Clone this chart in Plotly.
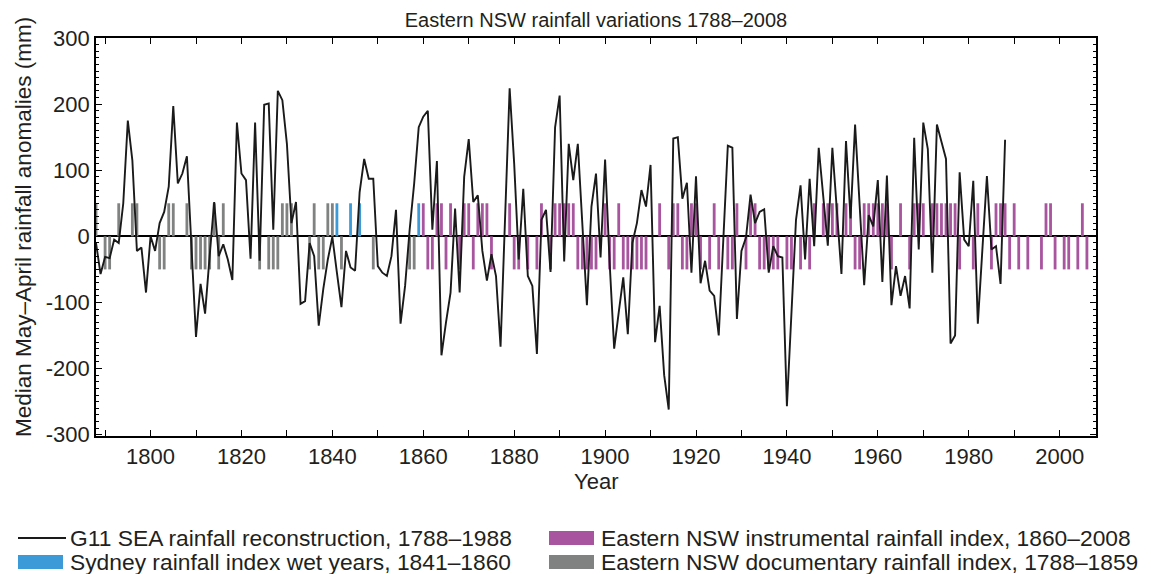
import plotly.graph_objects as go

# G11 SEA reconstruction, one value per year 1788-1988 (mm)
recon_years = list(range(1788, 1989))
recon_vals = [-10, -57,
    -31, -33, -5, -10, 50, 175, 115, -22, -17, -85,
    0, -22, 20, 37, 75, 197, 80, 95, 121, -15,
    -152, -72, -117, -30, 52, -30, -12, -35, -66, 172,
    95, 85, -34, 172, -37, 199, 201, 10, 220, 206,
    140, 20, 52, -102, -98, -10, -30, -135, -80, -35,
    -1, -55, -107, -22, -47, -52, 67, 117, 87, 87,
    -45, -55, -60, -30, 40, -132, -75, 10, 80, 165,
    181, 190, 10, 114, -180, -130, -85, 42, -85, 90,
    147, 52, 62, -22, -67, -27, -60, -167, 28, 224,
    110, -35, 72, -60, -75, -178, 25, 40, -54, 165,
    213, -38, 140, 85, 140, 15, -104, 45, 95, -32,
    116, -40, -170, -115, -62, -148, -10, 20, 70, 45,
    108, -160, -105, -210, -262, 148, 150, 57, 81, -55,
    91, -71, -37, -82, -90, -150, -5, 137, 134, -125,
    -22, -2, 63, 20, 37, 41, -55, -15, -30, -32,
    -257, -110, 25, 77, -35, 87, -15, 134, 55, -14,
    134, 30, -57, 144, 27, 169, 50, -74, 32, 15,
    85, -69, 92, -104, -45, -90, -60, -109, 149, -20,
    172, 132, -55, 169, 143, 117, -162, -150, 97, -5,
    -15, 84, -132, -20, 91, -20, -15, -72, 146]

# index bars: wet years plotted at +50, dry years at -50
bar_height = 50
doc_wet = [1788, 1793, 1796, 1797, 1804, 1805, 1808, 1814, 1816, 1829, 1830,
           1831, 1836, 1839, 1840]
doc_dry = [1790, 1791, 1802, 1803, 1809, 1810, 1811, 1812, 1813, 1815, 1824,
           1826, 1827, 1828, 1835, 1837, 1838, 1842, 1849, 1857, 1858]
syd_wet = [1841, 1844, 1846, 1859]
inst_wet = [1860, 1863, 1864, 1866, 1869, 1870, 1872, 1873, 1874, 1879, 1886,
            1889, 1890, 1891, 1892, 1893, 1900, 1903, 1912, 1915, 1916, 1919,
            1920, 1924, 1929, 1932, 1933, 1946, 1948, 1949, 1950, 1951, 1953,
            1954, 1957, 1958, 1959, 1960, 1961, 1962, 1965, 1968, 1969, 1970,
            1972, 1973, 1974, 1975, 1976, 1977, 1982, 1986, 1987, 1988, 1990,
            1997, 1998, 2005]
inst_dry = [1861, 1862, 1865, 1868, 1871, 1875, 1880, 1881, 1883, 1885, 1888,
            1894, 1895, 1896, 1897, 1898, 1901, 1902, 1904, 1905, 1906, 1907,
            1908, 1909, 1914, 1917, 1918, 1921, 1923, 1925, 1927, 1928, 1931,
            1934, 1935, 1936, 1937, 1938, 1940, 1941, 1943, 1945, 1955, 1956,
            1963, 1967, 1978, 1981, 1985, 1989, 1991, 1993, 1996, 1999, 2001,
            2002, 2004, 2006]

y_ticks = [-300, -200, -100, 0, 100, 200, 300]
y_ticktext = ['-300', '-200', '-100', '0', '100', '200', '300']

legend_labels = ['G11 SEA rainfall reconstruction, 1788–1988',
                 'Eastern NSW instrumental rainfall index, 1860–2008',
                 'Sydney rainfall index wet years, 1841–1860',
                 'Eastern NSW documentary rainfall index, 1788–1859']

purple = '#a8549f'
blue = '#3d9ad8'
grey = '#808181'
txt = '#231f20'
fnt = 'Liberation Sans, Arial, sans-serif'

fig = go.Figure()

fig.add_trace(go.Bar(x=doc_wet + doc_dry,
                     y=[bar_height] * len(doc_wet) + [-bar_height] * len(doc_dry),
                     width=0.62, marker_color=grey, marker_line_width=0,
                     showlegend=False))
fig.add_trace(go.Bar(x=syd_wet, y=[bar_height] * len(syd_wet),
                     width=0.62, marker_color=blue, marker_line_width=0,
                     showlegend=False))
fig.add_trace(go.Bar(x=inst_wet + inst_dry,
                     y=[bar_height] * len(inst_wet) + [-bar_height] * len(inst_dry),
                     width=0.62, marker_color=purple, marker_line_width=0,
                     showlegend=False))
fig.add_trace(go.Scatter(x=recon_years, y=recon_vals, mode='lines',
                         line=dict(color='#1a1a1a', width=1.9),
                         showlegend=False))

# the page body adds 8px on the left and top, so margins are 8px smaller
fig.update_layout(
    width=1151, height=574,
    margin=dict(l=88, r=63, t=30, b=146),
    barmode='overlay',
    plot_bgcolor='white', paper_bgcolor='white',
    font=dict(family=fnt, size=22, color=txt),
    title=dict(text='Eastern NSW rainfall variations 1788–2008',
               x=0.5, xref='paper', xanchor='center',
               y=1 - 12 / 574, yanchor='middle',
               font=dict(size=20, color=txt)),
)

fig.update_xaxes(
    range=[1788, 2008], tick0=1800, dtick=20,
    ticks='inside', ticklen=6, tickwidth=1.3, tickcolor='black',
    minor=dict(dtick=10, tick0=1800, ticks='inside', ticklen=6,
               tickwidth=1.3, tickcolor='black'),
    showline=True, linecolor='black', linewidth=1.6, mirror='ticks',
    showgrid=False, zeroline=False,
)
fig.update_yaxes(
    range=[-302, 300], tickmode='array', tickvals=y_ticks, ticktext=y_ticktext,
    ticks='inside', ticklen=6, tickwidth=1.3, tickcolor='black',
    minor=dict(dtick=10, ticks='inside', ticklen=3, tickwidth=1,
               tickcolor='black'),
    showline=True, linecolor='black', linewidth=1.6, mirror='ticks',
    showgrid=False, zeroline=True, zerolinecolor='black', zerolinewidth=1.6,
)


# positions below are pixels of the reference, turned into paper units
def px_x(p):
    return (p - 96) / 1000


def px_y(p):
    return (436 - p) / 398


# axis titles
fig.add_annotation(text='Year', x=0.5, xref='paper', xanchor='center',
                   y=px_y(481), yref='paper', yanchor='middle',
                   showarrow=False, font=dict(size=22))
fig.add_annotation(text='Median May–April rainfall anomalies (mm)',
                   x=px_x(23), xref='paper', xanchor='center',
                   y=px_y(227), yref='paper', yanchor='middle',
                   textangle=-90, showarrow=False, font=dict(size=22.5))

# legend drawn underneath, two columns
rows = [538, 562]
cols = [18, 549]
swatches = [('line', '#1a1a1a'), ('box', purple), ('box', blue), ('box', grey)]
for i, lab in enumerate(legend_labels):
    cx = cols[i % 2]
    cy = rows[i // 2]
    kind, col = swatches[i]
    if kind == 'line':
        fig.add_shape(type='line', xref='paper', yref='paper',
                      x0=px_x(cx), x1=px_x(cx + 48), y0=px_y(cy), y1=px_y(cy),
                      line=dict(color=col, width=2))
    else:
        fig.add_shape(type='rect', xref='paper', yref='paper',
                      x0=px_x(cx), x1=px_x(cx + 45), y0=px_y(cy - 7),
                      y1=px_y(cy + 7), fillcolor=col, line=dict(width=0))
    fig.add_annotation(text=lab, x=px_x(cx + 50), xref='paper', xanchor='left',
                       y=px_y(cy), yref='paper', yanchor='middle',
                       showarrow=False, font=dict(size=22.8))

fig.write_html('out.html')
